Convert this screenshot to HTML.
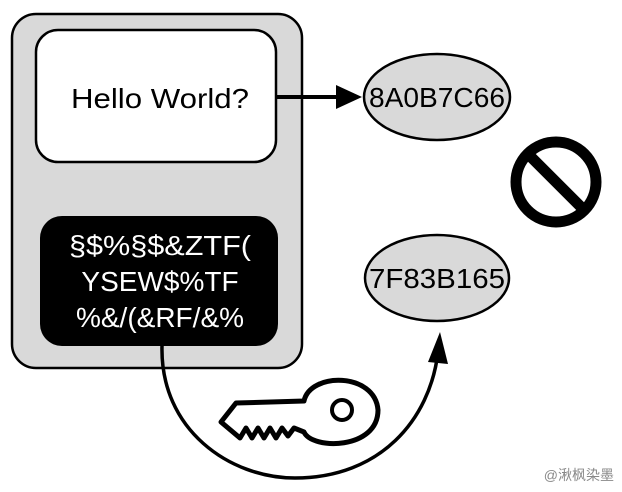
<!DOCTYPE html>
<html><head><style>body{margin:0;background:#fff}svg{display:block}</style></head><body>
<svg width="622" height="492" viewBox="0 0 622 492" xmlns="http://www.w3.org/2000/svg" font-family="Liberation Sans, sans-serif">
<rect x="12" y="14" width="290" height="354" rx="24" fill="#d9d9d9" stroke="#000" stroke-width="2.5"/>
<rect x="36" y="30" width="240" height="132" rx="22" fill="#fff" stroke="#000" stroke-width="2.5"/>
<text x="160" y="108" font-size="28" text-anchor="middle" textLength="178" lengthAdjust="spacingAndGlyphs">Hello World?</text>
<rect x="40" y="216" width="238" height="130" rx="22" fill="#000"/>
<g fill="#fff" font-size="28" text-anchor="middle">
<text x="160" y="255" textLength="182" lengthAdjust="spacingAndGlyphs">§$%§$&amp;ZTF(</text>
<text x="160" y="291">YSEW$%TF</text>
<text x="160" y="327">%&amp;/(&amp;RF/&amp;%</text>
</g>
<line x1="276" y1="97" x2="340" y2="97" stroke="#000" stroke-width="4"/>
<polygon points="336,85 362,97 336,109" fill="#000"/>
<ellipse cx="437" cy="97" rx="73" ry="43" fill="#d9d9d9" stroke="#000" stroke-width="2.5"/>
<text x="437" y="107" font-size="28" text-anchor="middle" textLength="136" lengthAdjust="spacingAndGlyphs">8A0B7C66</text>
<ellipse cx="437" cy="278" rx="72" ry="43" fill="#d9d9d9" stroke="#000" stroke-width="2.5"/>
<text x="437" y="288" font-size="28" text-anchor="middle" textLength="136" lengthAdjust="spacingAndGlyphs">7F83B165</text>
<circle cx="556" cy="182" r="40" fill="none" stroke="#000" stroke-width="11"/>
<line x1="528" y1="154" x2="584" y2="210" stroke="#000" stroke-width="11"/>
<path d="M162,346 C160,430 230,478 295,478 C380,478 430,420 438,352" fill="none" stroke="#000" stroke-width="3.5"/>
<polygon points="428,362 440,332 448,364" fill="#000"/>
<path d="M221,422 L236,403 L304,401 C310,372 375,372 378,410 C378,450 312,450 304,432 L294,428 L288,436 L282,428 L276,438 L270,428 L264,438 L258,428 L252,438 L246,428 L240,438 Z" fill="#fff" stroke="#000" stroke-width="5" stroke-linejoin="round"/>
<circle cx="342" cy="410" r="10" fill="none" stroke="#000" stroke-width="4"/>
<text x="614" y="480" font-size="14" fill="#888" text-anchor="end" font-family="Liberation Sans, Noto Sans CJK SC, sans-serif">@湫枫染墨</text>
</svg>
</body></html>
